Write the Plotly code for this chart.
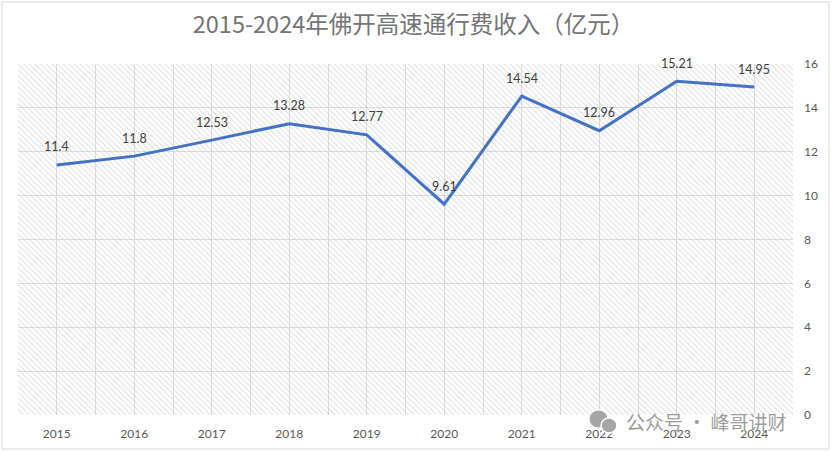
import plotly.graph_objects as go

# 佛开高速通行费收入 (亿元)
years = ["2015", "2016", "2017", "2018", "2019", "2020", "2021", "2022", "2023", "2024"]
revenue = [11.4, 11.8, 12.53, 13.28, 12.77, 9.61, 14.54, 12.96, 15.21, 14.95]
y_ticks = [0, 2, 4, 6, 8, 10, 12, 14, 16]

W, H = 832, 452
L, R, T, B = 18, 39, 64, 37
pw, ph = W - L - R, H - T - B

def px_x(x):
    return (x - L) / pw

def px_y(y):
    return (H - B - y) / ph

num_font = "Lato, 'Noto Sans CJK SC', sans-serif"
cjk_font = "'Noto Sans CJK SC', Lato, sans-serif"

idx = list(range(len(years)))
x_lo, x_hi = -0.5, len(years) - 0.5
y_lo, y_hi = y_ticks[0], y_ticks[-1]

fig = go.Figure()

# hatched plot background (transparent between the hatch lines so gridlines show)
fig.add_trace(go.Scatter(
    x=[x_lo, x_hi, x_hi, x_lo, x_lo], y=[y_lo, y_lo, y_hi, y_hi, y_lo],
    mode="lines", line=dict(width=0),
    fill="toself", fillcolor="rgba(0,0,0,0)",
    fillpattern=dict(shape="\\", fgcolor="#c8c8c8", bgcolor="rgba(0,0,0,0)",
                     size=4, solidity=0.3),
    hoverinfo="skip", showlegend=False,
))

fig.add_trace(go.Scatter(
    x=idx, y=revenue,
    mode="lines",
    line=dict(color="#4472C4", width=3),
    showlegend=False,
))

# data labels, lifted above each point
labels = [
    dict(x=i, y=v, text=f"{v:g}", xref="x", yref="y", showarrow=False,
         yshift=18, yanchor="middle",
         font=dict(family=num_font, size=12.5, color="#404040"))
    for i, v in zip(idx, revenue)
]

fig.update_layout(
    width=W, height=H,
    margin=dict(l=L, r=R, t=T, b=B),
    paper_bgcolor="white",
    plot_bgcolor="white",
    title=dict(
        text="2015-2024年佛开高速通行费收入（亿元）",
        x=0.497, xanchor="center", y=0.945, yanchor="middle",
        font=dict(family=cjk_font, size=23.5, color="#757575"),
    ),
    xaxis=dict(
        range=[x_lo, x_hi],
        tickvals=idx, ticktext=years,
        showgrid=True, gridcolor="#dcdcdc", gridwidth=1,
        minor=dict(tick0=x_lo, dtick=1, showgrid=True, gridcolor="#dcdcdc", gridwidth=1),
        zeroline=False, showline=False,
        tickfont=dict(family=num_font, size=12, color="#595959"),
        ticklabelstandoff=10,
    ),
    yaxis=dict(
        range=[y_lo, y_hi], side="right",
        tickvals=y_ticks,
        showgrid=True, gridcolor="#dcdcdc", gridwidth=1,
        zeroline=False, showline=False,
        tickfont=dict(family=num_font, size=12, color="#595959"),
        ticklabelstandoff=10,
    ),
    shapes=[
        # outer chart border
        dict(type="rect", xref="paper", yref="paper",
             x0=px_x(2), x1=px_x(829), y0=px_y(449), y1=px_y(2),
             line=dict(color="#d9d9d9", width=1), layer="below"),
        # watermark icon (two speech bubbles)
        dict(type="circle", xref="paper", yref="paper",
             x0=px_x(589), x1=px_x(608), y0=px_y(428), y1=px_y(410),
             fillcolor="#a6a6a6", line=dict(color="white", width=1)),
        dict(type="circle", xref="paper", yref="paper",
             x0=px_x(601), x1=px_x(617), y0=px_y(433), y1=px_y(418),
             fillcolor="#a6a6a6", line=dict(color="white", width=1.5)),
    ],
    annotations=labels + [
        dict(text="公众号 · 峰哥讲财", xref="paper", yref="paper",
             x=px_x(624), y=px_y(421), xanchor="left", yanchor="middle",
             showarrow=False,
             font=dict(family=cjk_font, size=19, color="#9e9e9e")),
    ],
)

# drop the page's default body margin so the chart sits at the window's corner
fig.write_html("out.html", config={"displayModeBar": False},
               post_script="document.body.style.margin='0';")
